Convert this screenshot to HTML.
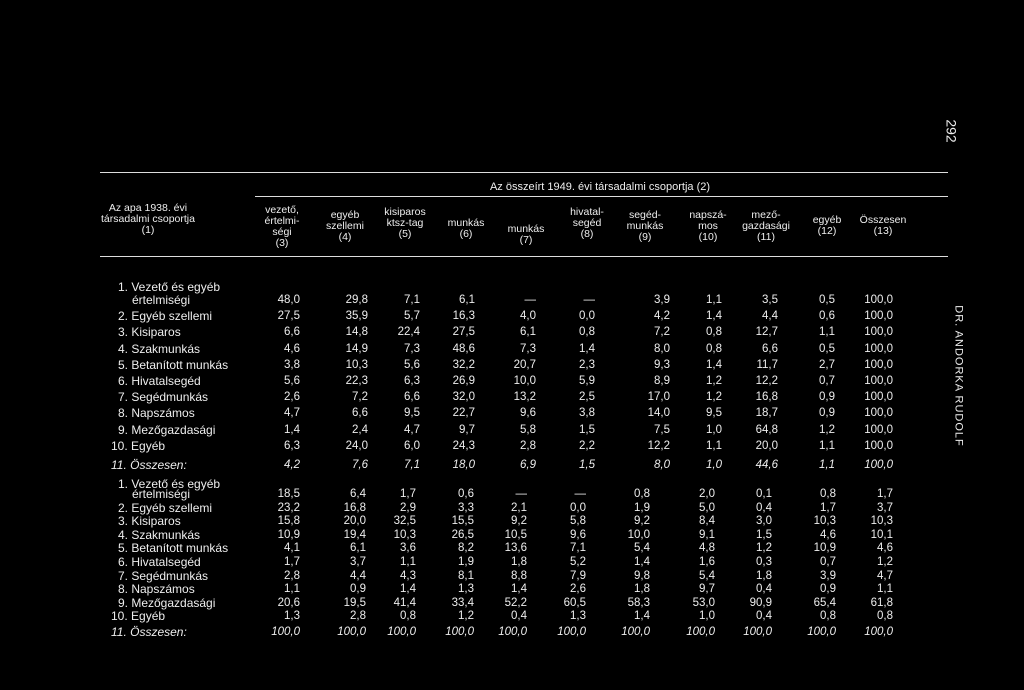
<!DOCTYPE html>
<html><head><meta charset="utf-8"><style>
body{margin:0;width:1024px;height:690px;background:#000;overflow:hidden;position:relative;font-family:"Liberation Sans",sans-serif;color:#eee}
.t{position:absolute;white-space:nowrap}
.h{position:absolute;font-size:10.5px;text-align:center;line-height:11px;transform:translateX(-50%)}
.ln{position:absolute;height:1px;background:#ddd}
.c{position:absolute;font-size:11.5px;white-space:nowrap;transform:translateX(-100%)}
.l{position:absolute;font-size:12px;white-space:nowrap}
</style></head><body>
<div class="t" style="left:940px;top:123px;font-size:14px;transform:rotate(90deg)">292</div>
<div class="t" style="left:888px;top:370px;font-size:11px;letter-spacing:1px;transform:rotate(90deg)">DR. ANDORKA RUDOLF</div>
<div class="ln" style="left:100px;top:172px;width:848px"></div>
<div class="ln" style="left:255px;top:196px;width:693px"></div>
<div class="ln" style="left:100px;top:256px;width:848px"></div>
<div class="h" style="left:600px;top:182px;font-size:11px">Az összeírt 1949. évi társadalmi csoportja (2)</div>
<div class="h" style="left:148px;top:203px">Az apa 1938. évi<br>társadalmi csoportja<br>(1)</div>
<div id="hdr"></div>
<div id="tb"></div>
<script>
const headers=[["vezető,<br>értelmi-<br>ségi<br>(3)",282,205],["egyéb<br>szellemi<br>(4)",345,210],["kisiparos<br>ktsz-tag<br>(5)",405,207],["munkás<br>(6)",466,218],["munkás<br>(7)",526,224],["hivatal-<br>segéd<br>(8)",587,207],["segéd-<br>munkás<br>(9)",645,210],["napszá-<br>mos<br>(10)",708,210],["mező-<br>gazdasági<br>(11)",766,210],["egyéb<br>(12)",827,215],["Összesen<br>(13)",883,215]];
const labels=["Vezető és egyéb","Egyéb szellemi","Kisiparos","Szakmunkás","Betanított munkás","Hivatalsegéd","Segédmunkás","Napszámos","Mezőgazdasági","Egyéb","Összesen:"];
const t1=[
["48,0","29,8","7,1","6,1","—","—","3,9","1,1","3,5","0,5","100,0"],
["27,5","35,9","5,7","16,3","4,0","0,0","4,2","1,4","4,4","0,6","100,0"],
["6,6","14,8","22,4","27,5","6,1","0,8","7,2","0,8","12,7","1,1","100,0"],
["4,6","14,9","7,3","48,6","7,3","1,4","8,0","0,8","6,6","0,5","100,0"],
["3,8","10,3","5,6","32,2","20,7","2,3","9,3","1,4","11,7","2,7","100,0"],
["5,6","22,3","6,3","26,9","10,0","5,9","8,9","1,2","12,2","0,7","100,0"],
["2,6","7,2","6,6","32,0","13,2","2,5","17,0","1,2","16,8","0,9","100,0"],
["4,7","6,6","9,5","22,7","9,6","3,8","14,0","9,5","18,7","0,9","100,0"],
["1,4","2,4","4,7","9,7","5,8","1,5","7,5","1,0","64,8","1,2","100,0"],
["6,3","24,0","6,0","24,3","2,8","2,2","12,2","1,1","20,0","1,1","100,0"],
["4,2","7,6","7,1","18,0","6,9","1,5","8,0","1,0","44,6","1,1","100,0"]];
const t2=[
["18,5","6,4","1,7","0,6","—","—","0,8","2,0","0,1","0,8","1,7"],
["23,2","16,8","2,9","3,3","2,1","0,0","1,9","5,0","0,4","1,7","3,7"],
["15,8","20,0","32,5","15,5","9,2","5,8","9,2","8,4","3,0","10,3","10,3"],
["10,9","19,4","10,3","26,5","10,5","9,6","10,0","9,1","1,5","4,6","10,1"],
["4,1","6,1","3,6","8,2","13,6","7,1","5,4","4,8","1,2","10,9","4,6"],
["1,7","3,7","1,1","1,9","1,8","5,2","1,4","1,6","0,3","0,7","1,2"],
["2,8","4,4","4,3","8,1","8,8","7,9","9,8","5,4","1,8","3,9","4,7"],
["1,1","0,9","1,4","1,3","1,4","2,6","1,8","9,7","0,4","0,9","1,1"],
["20,6","19,5","41,4","33,4","52,2","60,5","58,3","53,0","90,9","65,4","61,8"],
["1,3","2,8","0,8","1,2","0,4","1,3","1,4","1,0","0,4","0,8","0,8"],
["100,0","100,0","100,0","100,0","100,0","100,0","100,0","100,0","100,0","100,0","100,0"]];
const x1=[300,368,420,475,536,595,670,722,778,835,893];
const x2=[300,366,416,474,527,586,650,715,772,836,893];
const hd=document.getElementById('hdr');
headers.forEach((h,i)=>{const d=document.createElement('div');d.className='h';


d.style.left=h[1]+'px';d.style.top=h[2]+'px';d.innerHTML=h[0];hd.appendChild(d);});
const tb=document.getElementById('tb');
function table(data,xs,y0,tid,first,step,last){
 const ys=[y0+first];for(let i=1;i<11;i++)ys.push(ys[0]+i*step);ys[10]+=last;
 labels.forEach((lb,i)=>{
  const n=document.createElement('div');n.className='l';
  
  
  n.style.left=(i>=9?111:118)+'px';n.style.top=(i==0?y0:ys[i])+'px';
  if(i==10)n.style.fontStyle='italic';
  n.textContent=(i+1)+'. '+lb;tb.appendChild(n);
  if(i==0){const e=document.createElement('div');e.className='l';
   
   
   e.style.left='132px';e.style.top=ys[0]+'px';e.textContent='értelmiségi';tb.appendChild(e);}
  data[i].forEach((v,j)=>{const c=document.createElement('div');c.className='c';
   
   
   c.style.left=xs[j]+'px';c.style.top=(ys[i]+1)+'px';if(i==10)c.style.fontStyle='italic';
   c.textContent=v;tb.appendChild(c);});
 });
}
table(t1,x1,280,'t1',13,16.2,3);
table(t2,x2,477,'t2',10,13.6,2);
</script>
</body></html>
